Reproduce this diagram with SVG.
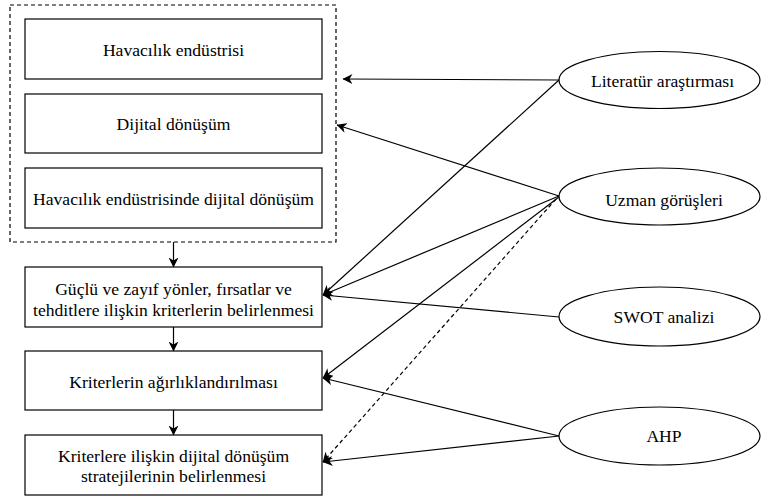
<svg xmlns="http://www.w3.org/2000/svg" width="761" height="497" viewBox="0 0 761 497">
  <defs>
    <style>
      .box { fill: #ffffff; stroke: #000000; stroke-width: 1.2; }
      .group { fill: none; stroke: #000000; stroke-width: 1.2; stroke-dasharray: 4 3; }
      .oval { fill: #ffffff; stroke: #000000; stroke-width: 1.2; }
      .lbl { font-family: 'Liberation Serif', 'Times New Roman', serif; font-size: 17.6px; fill: #000000; text-anchor: middle; }
      .edge { fill: none; stroke: #000000; stroke-width: 1.2; }
      .dash { stroke-dasharray: 4 3; }
    </style>
    <marker id="arrow" viewBox="0 0 10 10" refX="9.5" refY="5" markerWidth="10" markerHeight="10" markerUnits="userSpaceOnUse" orient="auto">
      <path d="M0,0 L10,5 L0,10 L3,5 Z" fill="#000000"/>
    </marker>
  </defs>

  <!-- dashed frame around the three topic boxes -->
  <rect id="scope" class="group" x="10" y="5" width="326" height="237"/>

  <g id="havacilik">
    <rect class="box" x="25" y="19" width="297" height="60"/>
    <text class="lbl" x="173.5" y="56">Havacılık endüstrisi</text>
  </g>
  <g id="dijital">
    <rect class="box" x="25" y="94" width="297" height="59"/>
    <text class="lbl" x="173.5" y="130">Dijital dönüşüm</text>
  </g>
  <g id="havacilik-dijital">
    <rect class="box" x="25" y="168" width="297" height="60"/>
    <text class="lbl" x="173.5" y="205">Havacılık endüstrisinde dijital dönüşüm</text>
  </g>

  <g id="kriter-belirleme">
    <rect class="box" x="25" y="267" width="297" height="60"/>
    <text class="lbl" x="173.5" y="295">Güçlü ve zayıf yönler, fırsatlar ve</text>
    <text class="lbl" x="173.5" y="315.5">tehditlere ilişkin kriterlerin belirlenmesi</text>
  </g>
  <g id="agirliklandirma">
    <rect class="box" x="25" y="351" width="297" height="59"/>
    <text class="lbl" x="173.5" y="388">Kriterlerin ağırlıklandırılması</text>
  </g>
  <g id="strateji">
    <rect class="box" x="25" y="435" width="297" height="60"/>
    <text class="lbl" x="173.5" y="461.5">Kriterlere ilişkin dijital dönüşüm</text>
    <text class="lbl" x="173.5" y="482">stratejilerinin belirlenmesi</text>
  </g>

  <g id="literatur">
    <ellipse class="oval" cx="659.5" cy="80" rx="100.5" ry="28.5"/>
    <text class="lbl" x="662.5" y="86.5">Literatür araştırması</text>
  </g>
  <g id="uzman">
    <ellipse class="oval" cx="659.5" cy="196.5" rx="100.5" ry="28.5"/>
    <text class="lbl" x="664" y="205.5">Uzman görüşleri</text>
  </g>
  <g id="swot">
    <ellipse class="oval" cx="659.5" cy="316.5" rx="100.5" ry="29.5"/>
    <text class="lbl" x="664" y="323">SWOT analizi</text>
  </g>
  <g id="ahp">
    <ellipse class="oval" cx="659.5" cy="436" rx="100.5" ry="29"/>
    <text class="lbl" x="664" y="442">AHP</text>
  </g>

  <g id="connectors">
    <line class="edge" x1="173.5" y1="242" x2="173.5" y2="267" marker-end="url(#arrow)"/>
    <line class="edge" x1="173.5" y1="327" x2="173.5" y2="351" marker-end="url(#arrow)"/>
    <line class="edge" x1="173.5" y1="410" x2="173.5" y2="435" marker-end="url(#arrow)"/>

    <line class="edge" x1="559" y1="80" x2="343" y2="79" marker-end="url(#arrow)"/>
    <line class="edge" x1="559" y1="196" x2="337" y2="125" marker-end="url(#arrow)"/>

    <line class="edge" x1="559" y1="80" x2="323" y2="295" marker-end="url(#arrow)"/>
    <line class="edge" x1="559" y1="196" x2="323" y2="295" marker-end="url(#arrow)"/>
    <line class="edge" x1="559" y1="317" x2="323" y2="295" marker-end="url(#arrow)"/>

    <line class="edge" x1="559" y1="197" x2="323" y2="378" marker-end="url(#arrow)"/>
    <line class="edge" x1="559" y1="436" x2="323" y2="378" marker-end="url(#arrow)"/>

    <line class="edge dash" x1="556" y1="199" x2="323" y2="462" marker-end="url(#arrow)"/>
    <line class="edge" x1="559" y1="436" x2="323" y2="462" marker-end="url(#arrow)"/>
  </g>
</svg>
